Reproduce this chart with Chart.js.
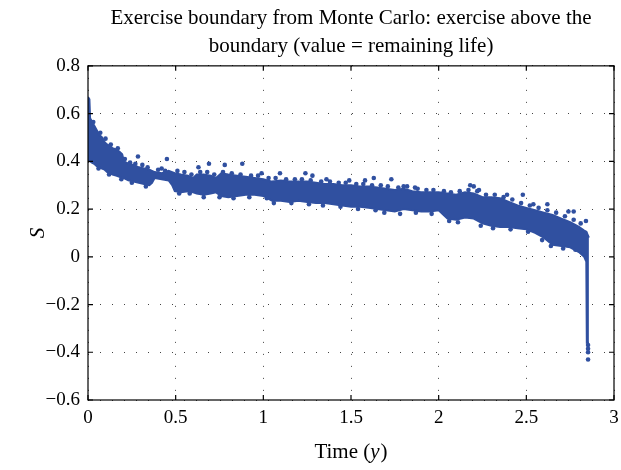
<!DOCTYPE html>
<html>
<head>
<meta charset="utf-8">
<script src="https://cdn.jsdelivr.net/npm/chart.js@4"></script>
<style>
  html, body { margin: 0; padding: 0; background: #fff; }
  #wrap { width: 621px; height: 470px; }
</style>
</head>
<body>
<div id="wrap"><canvas id="grafico"></canvas></div>
<script>
// band of simulated exercise points: time, lower edge, upper edge
const tiempo = [0.000, 0.008, 0.012, 0.020, 0.035, 0.050, 0.065, 0.080, 0.095, 0.110,
  0.125, 0.140, 0.160, 0.180, 0.195, 0.205, 0.230, 0.260, 0.290, 0.320,
  0.350, 0.365, 0.380, 0.420, 0.460, 0.480, 0.495, 0.530, 0.570, 0.600,
  0.620, 0.660, 0.700, 0.730, 0.760, 0.800, 0.850, 0.900, 0.950, 1.000,
  1.050, 1.100, 1.150, 1.200, 1.250, 1.300, 1.350, 1.400, 1.450, 1.500,
  1.550, 1.600, 1.650, 1.700, 1.750, 1.800, 1.850, 1.900, 1.950, 2.000,
  2.050, 2.100, 2.150, 2.200, 2.250, 2.300, 2.350, 2.400, 2.450, 2.500,
  2.550, 2.600, 2.650, 2.700, 2.750, 2.800, 2.830, 2.842, 2.845, 2.857];
const inferior = [0.41, 0.40, 0.40, 0.395, 0.39, 0.38, 0.375, 0.37, 0.365, 0.355,
  0.35, 0.345, 0.34, 0.335, 0.33, 0.33, 0.32, 0.315, 0.31, 0.305,
  0.30, 0.31, 0.33, 0.325, 0.32, 0.30, 0.275, 0.27, 0.275, 0.27,
  0.265, 0.26, 0.265, 0.27, 0.255, 0.25, 0.255, 0.26, 0.26, 0.255,
  0.235, 0.235, 0.23, 0.235, 0.23, 0.225, 0.225, 0.22, 0.215, 0.21,
  0.21, 0.205, 0.20, 0.195, 0.19, 0.20, 0.195, 0.19, 0.19, 0.195,
  0.16, 0.155, 0.165, 0.16, 0.14, 0.13, 0.125, 0.125, 0.12, 0.115,
  0.10, 0.08, 0.05, 0.045, 0.04, 0.02, 0.00, -0.02, -0.36, -0.36];
const superior = [0.67, 0.66, 0.58, 0.57, 0.55, 0.53, 0.51, 0.50, 0.48, 0.47,
  0.465, 0.455, 0.45, 0.44, 0.43, 0.40, 0.39, 0.385, 0.375, 0.37,
  0.365, 0.36, 0.355, 0.35, 0.36, 0.355, 0.35, 0.345, 0.34, 0.33,
  0.345, 0.345, 0.34, 0.33, 0.35, 0.345, 0.34, 0.335, 0.33, 0.325,
  0.315, 0.32, 0.315, 0.315, 0.315, 0.31, 0.305, 0.305, 0.30, 0.30,
  0.295, 0.295, 0.29, 0.285, 0.28, 0.285, 0.275, 0.27, 0.27, 0.27,
  0.265, 0.26, 0.27, 0.265, 0.25, 0.25, 0.245, 0.23, 0.215, 0.205,
  0.195, 0.185, 0.175, 0.16, 0.145, 0.125, 0.11, 0.105, 0.10, 0.08];

// ragged points along the edges of the band
const bordeX = [0.03, 0.07, 0.10, 0.13, 0.17, 0.21, 0.24, 0.27, 0.31, 0.34,
  0.40, 0.44, 0.51, 0.55, 0.59, 0.64, 0.68, 0.72, 0.77, 0.82,
  0.87, 0.93, 0.97, 1.03, 1.07, 1.13, 1.18, 1.22, 1.27, 1.33,
  1.38, 1.43, 1.47, 1.53, 1.57, 1.62, 1.67, 1.71, 1.77, 1.82,
  1.88, 1.93, 1.97, 2.03, 2.07, 2.12, 2.17, 2.22, 2.27, 2.32,
  2.37, 2.42, 2.47, 2.52, 2.57, 2.62, 2.67, 2.72, 2.77, 2.81,
  0.06, 0.12, 0.19, 0.25, 0.33, 0.52, 0.58, 0.66, 0.75, 0.83,
  0.92, 1.02, 1.06, 1.16, 1.26, 1.34, 1.44, 1.54, 1.64, 1.69,
  1.78, 1.87, 1.96, 2.06, 2.11, 2.24, 2.31, 2.41, 2.51, 2.59,
  2.64, 2.71, 2.78];
const bordeY = [0.565, 0.52, 0.495, 0.47, 0.455, 0.41, 0.395, 0.39, 0.385, 0.375,
  0.365, 0.36, 0.36, 0.355, 0.345, 0.355, 0.355, 0.345, 0.355, 0.35,
  0.345, 0.34, 0.34, 0.33, 0.33, 0.325, 0.325, 0.325, 0.32, 0.315,
  0.315, 0.31, 0.31, 0.305, 0.305, 0.30, 0.30, 0.295, 0.29, 0.295,
  0.285, 0.28, 0.28, 0.275, 0.27, 0.275, 0.28, 0.275, 0.26, 0.26,
  0.25, 0.24, 0.225, 0.215, 0.205, 0.195, 0.185, 0.17, 0.155, 0.14,
  0.37, 0.345, 0.325, 0.31, 0.295, 0.265, 0.265, 0.25, 0.25, 0.245,
  0.25, 0.245, 0.225, 0.225, 0.22, 0.215, 0.21, 0.20, 0.195, 0.185,
  0.18, 0.185, 0.18, 0.15, 0.145, 0.13, 0.12, 0.115, 0.105, 0.07,
  0.045, 0.035, 0.03];

// isolated points outside the dense band
const sueltosX = [0.285, 0.45, 0.42, 0.63, 0.69, 0.78, 0.88, 0.99, 1.095, 1.24,
  1.28, 1.36, 1.49, 1.58, 1.63, 1.73, 1.80, 1.865, 2.18, 2.20,
  2.23, 2.39, 2.48, 2.54, 2.62, 2.74, 2.77, 2.84, 2.852, 2.852,
  2.852, 2.852];
const sueltosY = [0.42, 0.41, 0.37, 0.375, 0.39, 0.385, 0.39, 0.35, 0.35, 0.35,
  0.34, 0.325, 0.32, 0.32, 0.33, 0.325, 0.295, 0.29, 0.30, 0.295,
  0.28, 0.26, 0.26, 0.22, 0.22, 0.19, 0.19, 0.15, -0.37, -0.385,
  -0.40, -0.43];

const ticksX = [0, 0.5, 1, 1.5, 2, 2.5, 3];
const ticksY = [-0.6, -0.4, -0.2, 0, 0.2, 0.4, 0.6, 0.8];

const azul = '#3050a0';
const fuente = "'Liberation Serif', serif";
const tamTicks = 19;
const tamTitulo = 21;

function etiqueta(v) {
  const r = Math.round(v * 10) / 10;
  return r < 0 ? '\u2212' + String(-r) : String(r);
}

const marco = {
  id: 'marco',
  afterDraw(chart) {
    const ctx = chart.ctx;
    const a = chart.chartArea;
    const sx = chart.scales.x, sy = chart.scales.y;
    ctx.save();
    ctx.strokeStyle = '#000';
    ctx.lineWidth = 1.2;
    ctx.strokeRect(a.left, a.top, a.right - a.left, a.bottom - a.top);
    ctx.beginPath();
    ticksX.forEach(v => {
      const p = sx.getPixelForValue(v);
      ctx.moveTo(p, a.bottom); ctx.lineTo(p, a.bottom - 5);
      ctx.moveTo(p, a.top); ctx.lineTo(p, a.top + 5);
    });
    ticksY.forEach(v => {
      const p = sy.getPixelForValue(v);
      ctx.moveTo(a.left, p); ctx.lineTo(a.left + 5, p);
      ctx.moveTo(a.right, p); ctx.lineTo(a.right - 5, p);
    });
    ctx.stroke();
    // axis titles with italic symbols
    ctx.fillStyle = '#000';
    ctx.textBaseline = 'middle';
    const cx = (a.left + a.right) / 2;
    const n1 = tamTitulo + 'px ' + fuente, n2 = 'italic ' + tamTitulo + 'px ' + fuente;
    ctx.font = n1;
    const w1 = ctx.measureText('Time (').width;
    const w3 = ctx.measureText(')').width;
    ctx.font = n2;
    const w2 = ctx.measureText('y').width + 1;
    const x0 = cx - (w1 + w2 + w3) / 2;
    const yT = 452;
    ctx.textAlign = 'left';
    ctx.font = n1; ctx.fillText('Time (', x0, yT);
    ctx.font = n2; ctx.fillText('y', x0 + w1, yT);
    ctx.font = n1; ctx.fillText(')', x0 + w1 + w2, yT);
    ctx.save();
    ctx.translate(38, (a.top + a.bottom) / 2);
    ctx.rotate(-Math.PI / 2);
    ctx.textAlign = 'center';
    ctx.font = n2;
    ctx.fillText('S', 0, 0);
    ctx.restore();
    ctx.restore();
  }
};

const puntos = (xs, ys) => xs.map((t, i) => ({ x: t, y: ys[i] }));

const ctxGrafico = document.getElementById('grafico').getContext('2d');
const grafico = new Chart(ctxGrafico, {
  type: 'line',
  data: {
    datasets: [{
      label: 'inferior',
      data: puntos(tiempo, inferior),
      borderColor: azul,
      borderWidth: 2,
      pointRadius: 0,
      fill: false,
      tension: 0
    }, {
      label: 'superior',
      data: puntos(tiempo, superior),
      borderColor: azul,
      borderWidth: 2,
      backgroundColor: azul,
      pointRadius: 0,
      fill: '-1',
      tension: 0
    }, {
      label: 'borde',
      data: puntos(bordeX, bordeY),
      showLine: false,
      pointRadius: 2.3,
      pointBorderWidth: 0,
      pointBackgroundColor: azul,
      pointBorderColor: azul
    }, {
      label: 'sueltos',
      data: puntos(sueltosX, sueltosY),
      showLine: false,
      pointRadius: 2.3,
      pointBorderWidth: 0,
      pointBackgroundColor: azul,
      pointBorderColor: azul
    }]
  },
  options: {
    responsive: true,
    maintainAspectRatio: false,
    animation: false,
    layout: { padding: { left: 0, right: 0, top: 0, bottom: 0 } },
    plugins: {
      legend: { display: false },
      tooltip: { enabled: false },
      title: {
        display: true,
        fullSize: false,
        text: ['Exercise boundary from Monte Carlo: exercise above the', 'boundary (value = remaining life)'],
        color: '#000',
        font: { family: fuente, size: tamTitulo, weight: 'normal', lineHeight: 1.33 },
        padding: { top: 5, bottom: 5 }
      }
    },
    scales: {
      x: {
        type: 'linear',
        min: 0, max: 3,
        afterFit: s => { s.height = 70; s.paddingRight = 7; s.paddingLeft = 0; },
        afterBuildTicks: s => { s.ticks = ticksX.map(v => ({ value: v })); },
        ticks: { color: '#000', padding: 7, font: { family: fuente, size: tamTicks }, callback: etiqueta, maxRotation: 0 },
        grid: { color: '#444', lineWidth: 1, drawTicks: false },
        border: { display: false, dash: [1, 11] }
      },
      y: {
        type: 'linear',
        min: -0.6, max: 0.8,
        afterFit: s => { s.width = 88; },
        afterBuildTicks: s => { s.ticks = ticksY.map(v => ({ value: v })); },
        ticks: { color: '#000', padding: 8, font: { family: fuente, size: tamTicks }, callback: etiqueta },
        grid: { color: '#444', lineWidth: 1, drawTicks: false },
        border: { display: false, dash: [1, 11] }
      }
    }
  },
  plugins: [marco]
});
</script>
</body>
</html>
